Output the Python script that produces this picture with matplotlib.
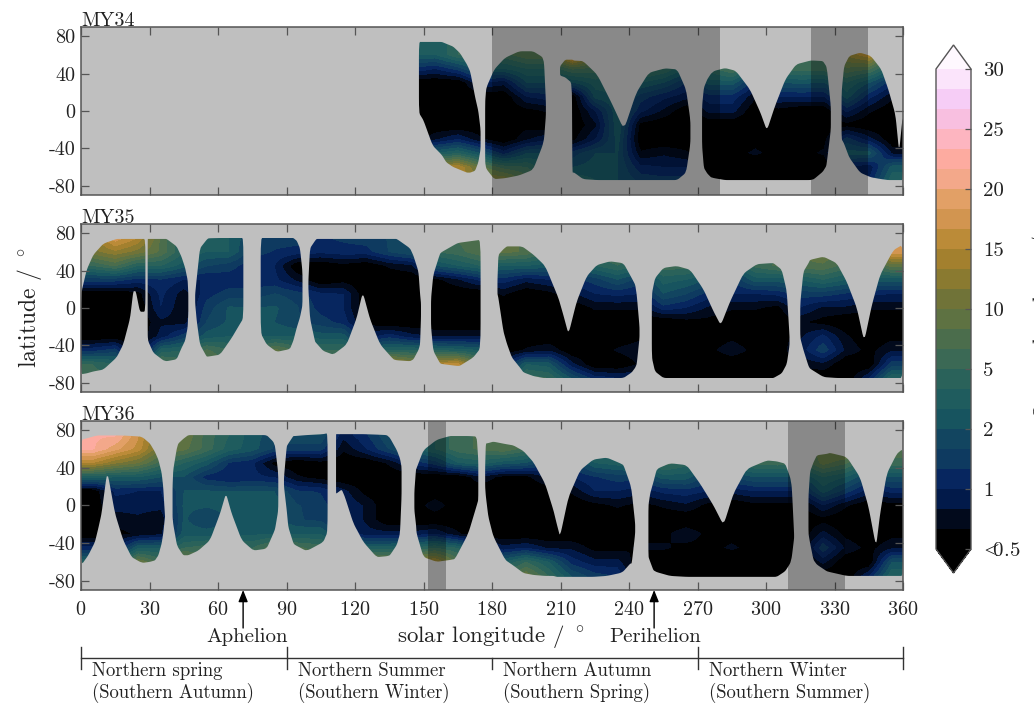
import numpy as np
import matplotlib
matplotlib.use("Agg")
import matplotlib.pyplot as plt
from matplotlib.colors import ListedColormap, Normalize
from matplotlib.cm import ScalarMappable
from matplotlib.path import Path
from matplotlib.patches import PathPatch
from matplotlib.transforms import blended_transform_factory

plt.rcParams.update({"font.family": "cmr10", "mathtext.fontset": "cm",
                     "axes.unicode_minus": False, "axes.formatter.use_mathtext": True})

W, H = 1034, 704
LAT_ROWS = [75, 60, 45, 30, 15, 0, -15, -30, -45, -60, -75]
LEVELS = [0.5, 0.667, 0.833, 1, 1.33, 1.67, 2, 3, 4, 5, 6.67, 8.33, 10, 11.67, 13.33,
          15, 16.67, 18.33, 20, 21.67, 23.33, 25, 26.67, 28.33, 30]
BAND_COLORS = ["#000000", "#020a1c", "#021a4a", "#07265f", "#0e3a60", "#124560",
               "#17545f", "#1f5c5e", "#2a625a", "#3b6955", "#4b6d4c", "#5e7242",
               "#707338", "#8a7a30", "#a3802e", "#bb8b38", "#d29550", "#e2a066",
               "#f3a88a", "#fdaba0", "#fdb5c0", "#f8bfe0", "#f6cdf6", "#fbe4fb"]
TOP_COLOR = "#fef8fe"
CBAR_TICKS = ["<0.5", "1", "2", "5", "10", "15", "20", "25", "30"]

# Ozone values: one column per 10 deg of Ls (centres 145, 155, ...), north to south.
MY34_START = 140
MY34 = [
 [3,3,1.3,.45,.4,.4,.4,.5,2.5,10,12],
 [3,3,1.0,.4,.4,.4,.4,.8,3,13,13],
 [5,5,1.5,.4,.4,.45,.5,1,4,15,15],
 [5,5,3,1,.5,.4,.4,.7,2,9,12],
 [6,6,3,.9,.5,.45,.4,.5,1.2,6,12],
 [8,8,4,2,1,.6,.6,.8,2,5,8],
 [8,8,4,2,1.2,.7,.5,1,2,3,5],
 [21,19,7,2,.5,.45,.4,.6,1.5,2,4],
 [10,10,6,3.5,2.5,1,.8,1,2,2.5,3],
 [6,6,4,3.5,3,3,3,2.5,2,2,2],
 [7,7,7,3,1.5,1.1,.6,.5,.7,1.1,1.6],
 [6,6,5,2,1.1,.8,.45,.5,.8,1,1.5],
 [5,5,3,1.3,.9,.5,.45,.4,.7,1,1.5],
 [5,5,4.5,2.5,1.2,.9,.5,.5,.5,.4,.4],
 [6,6,7,2.5,1.2,.9,.5,.5,.6,.4,.4],
 [4,4,2.5,1.1,.7,.5,.5,.6,.7,.4,.4],
 [5,5,5,2,1,.6,.45,.5,.6,.4,.4],
 [6,6,6,2.2,1,.5,.45,.5,.6,.4,.4],
 [7,7,6,2,1,.5,.45,.6,.7,.5,.4],
 [12,12,8,4,2.5,1.1,.6,1.5,2.5,1,.5],
 [16,15,7,2,1.1,.7,.4,.9,2.5,.9,1.1],
 [5,5,3,1.1,.7,.45,.4,.4,.8,2.5,4],
]
MY35_START = 0
MY35 = [
 [12,11,5,1.5,.4,.4,.4,.4,1.2,5,6],
 [18,13,7,1.5,.4,.4,.4,.4,1.5,4,5],
 [15,11,4,1.2,.6,.5,.4,.4,.4,2,4],
 [8,8,4,1.3,1.1,1,.8,.9,3.5,8,8],
 [4,4,2.5,1,.75,.7,.75,1.5,4,6,6],
 [3,3,1.7,1,1.2,1.5,1.7,2.5,7,10,10],
 [3,3,1.5,1.1,1.5,2.2,2.2,3,5,5,5],
 [1.7,1.5,1.1,1.1,1.5,2,2.2,3,5,5,5],
 [1.5,1.3,1,1.1,1.7,2.2,2,3,9,9,9],
 [1.5,1.2,.5,.8,1.5,1.7,1.7,3,6,6,6],
 [1.3,1.1,.45,.5,1.1,1.2,1.5,2.5,5,5,5],
 [1.4,1.2,.6,.6,1,1,1.2,2.5,5,5,5],
 [1.5,1.2,.5,.4,.4,.4,.6,.9,3,10,10],
 [1.7,1.7,.7,.4,.4,.4,.5,1.2,4,15,15],
 [2,2,.8,.4,.4,.4,.4,.9,4,12,12],
 [5,5,2,.6,.4,.4,.4,.8,4,15,15],
 [7,6,3,.8,.4,.4,.4,.8,3.5,16,16],
 [8,8,4,1.1,.5,.4,.4,.8,3,8,8],
 [9,9,3,1.2,.7,.45,.4,.4,.5,.9,1.5],
 [8,8,3,.9,.45,.4,.4,.4,.7,3,6],
 [5,5,2.5,1,.6,.4,.4,.5,.8,2.5,5],
 [5,5,2.5,1.2,.8,.5,.4,.45,.4,.9,2],
 [6,6,4,1.5,1,.7,.45,.45,.45,.4,1.2],
 [7,7,5,2,1.1,.7,.5,.5,.7,.5,1],
 [5,5,4,1.5,1,.7,.5,.6,.8,.7,1],
 [5,5,6,3.5,2,1.2,.5,.6,.5,.4,.4],
 [5,5,6,3,1.7,1,.6,.5,.6,.4,.4],
 [5,5,4,2,1.2,.8,.6,.5,.6,.4,.4],
 [5,5,3,1.3,1,.7,.5,.6,.8,.4,.4],
 [5,5,5.5,2.5,1,.7,.5,.5,.6,.4,.4],
 [7,7,7,2.5,1.1,.6,.45,.5,.5,.4,.4],
 [8,8,8,3,1.5,1,.7,.8,.9,.7,.5],
 [10,10,8,4,1.5,.8,.6,1.1,1.6,.8,.4],
 [8,8,6,3,1.3,.8,.5,.7,.8,.5,.4],
 [7,7,5,2.5,1.1,.7,.45,.5,.6,.5,1],
 [18,18,9,2.5,1,.7,.5,.6,.8,1.5,4],
]
MY36_START = 0
MY36 = [
 [22,22,15,3.5,.5,.4,.4,.4,1.1,4,4],
 [22,19,12,3,1.1,.9,.75,.6,.9,3,3],
 [17,16,10,3,1,.9,.8,.7,3,10,10],
 [10,10,6,2,1,.9,.7,.8,3,6,6],
 [10,9,4,2,2,2.2,2.2,2.5,5,12,12],
 [6,6,2.5,1.2,2.2,2.2,1.7,2.5,6,6,6],
 [4,3.5,1.3,1,2,2.3,2.2,2.5,6,8,8],
 [2.5,2.5,1.1,1.1,2,2.5,2.5,2.8,5,8,8],
 [1.8,1.6,.6,1,2,2.5,2.5,3,8,8,8],
 [2,1.5,.5,.7,1.4,1.7,1.7,3,7,10,10],
 [2,1.5,.6,.6,1.3,1.5,1.6,3,6,6,6],
 [.9,.7,.4,.4,.9,1,1,1.5,4,4,4],
 [1.3,1,.4,.4,.6,.8,.8,.9,3.5,12,12],
 [2,1.7,.7,.4,.4,.4,.45,.9,3.5,10,10],
 [3,3,1.1,.4,.4,.5,.5,.9,4,12,12],
 [4,4,1.5,.45,.4,.8,.5,1,5,14,14],
 [6,6,3,.5,.4,.4,.4,.7,4,8,8],
 [7,7,3.5,.8,.4,.4,.4,.5,1.5,3,3],
 [8,8,2.5,.6,.4,.4,.4,.45,.9,3,6],
 [7,6,2,.6,.4,.4,.4,.5,1,5,10],
 [3,3,1.3,.9,.5,.4,.4,.45,.8,3,5],
 [3,3,1.5,1,.7,.5,.4,.45,.8,1.2,2],
 [5,5,3,1.3,1,.6,.45,.4,.6,.9,1.5],
 [5,5,3.5,1.5,1,.7,.45,.45,.6,.9,1.3],
 [4,4,4,1.5,.9,.6,.5,.6,.7,.5,.4],
 [4,4,6,2.5,1.1,.7,.5,.6,.7,.4,.4],
 [4,4,4.5,2.5,1.2,.8,.45,.8,.6,.4,.4],
 [4,4,3,1.5,1,.6,.5,.6,.6,.4,.4],
 [4,4,4,1.7,.9,.5,.5,.6,.7,.4,.4],
 [5,5,5.5,2,1,.6,.45,.5,.6,.4,.4],
 [5,5,6,2,1,.6,.45,.45,.5,.4,.4],
 [5,5,5,2,1,.6,.45,.5,.6,.5,.4],
 [10,10,9,4,2.5,1,.6,.9,1.6,.9,.4],
 [12,12,7,3,1.5,.7,.45,.6,.8,.5,.4],
 [6,6,4,1.7,.9,.5,.45,.5,.6,.5,1],
 [8,8,6,2,1.1,.6,.5,.6,.8,2,4],
]

# Coverage of each observation block: Ls, northern edge, southern edge (deg).
MY34_COVER = [
 ([148,150,154,158,160,163,166,169,170.5,172.6,174,175],
  [74,74,74,74,72,69,62,50,42,15,0,-20],
  [-2,-10,-37,-47,-55,-60,-63,-66,-66,-64,-55,-41]),
 ([177,177.5,181,185.7,191.9,198,202,202.8,203.6],
  [10,25,44.6,57,64,64,58,52,10],
  [-55,-62,-73,-72,-69,-63,-38,-30,-5]),
 ([209.8,212.1,215,215.2,216,219.9,226.1,232.3,237.8,243.2,248.7,255.7,261.1,265,266.9],
  [48,55,55,55,54,53.5,39,9,-20,19.6,41,45.7,44.6,23,-10],
  [38,36,30,-66,-66,-73,-74,-74,-74,-74,-74,-74,-74,-66,-35]),
 ([272,272.8,274.3,275.9,277.4,282.1,286.8,293,297.6,300.4,303.9,308.5,313.2,319.4,321,324.9,326.4,326.9,328.4],
  [5,25,34,40,43,46,43,23,-2,-21,5,34,50,54,54,53.5,48,41,5],
  [-37,-61,-67,-71,-72,-74,-74,-74,-74,-74,-74,-74,-74,-74,-73,-65,-59,-50,-20]),
 ([333.1,334.2,336.5,341.2,345.9,350.5,353.6,356.7,358.3,360],
  [20,48,59,62.5,59,44.6,23,-4,-44,-2],
  [-30,-35,-50,-66,-71,-73,-74,-74,-74,-74]),
]
MY35_COVER = [
 ([0,2.5,5.4,9.8,15.6,18.5,21.5,22.9,24,25.8,28.2],
  [15,41,57,69,74,74,74,74,74,74,74],
  [-71,-70,-68,-66,-53,-39,-11,18,18,-4,-4]),
 ([29.2,29.5,31.7,36,37.5,41.9,44,45.6,46.7,47],
  [74,74,74,74,74,66,55,43,30,15],
  [-30,-36,-48,-56,-57,-55,-43,-35,-21,-5]),
 ([50,50.7,52.1,55,55.8,60.9,66,68.9,71.1],
  [15,32,64,73,74.7,75,75,75,75],
  [5,-14,-39,-52,-52,-50,-32,-20,-11]),
 ([78.7,81.3,85.7,91.5,93,94.5,95.9,97],
  [75,75,75,75,75,72,64,39],
  [-27,-39,-47,-44,-35,-21,-10,3]),
 ([99.6,100.3,102.5,103.2,106.1,110.5,116.4,120.7,123.4,126.6,131,136.8,138.3,144.1,145.6,147.8,148.5,148.9],
  [30,64,72,74,74,74,74,74,74,74,74,74,74,64,56,39,15,5],
  [20,-11,-36,-38,-46,-50,-39,-11,17,-12,-39,-55,-56,-57,-55,-45,-39,-10]),
 ([153.3,154.3,157.2,158,164.5,165.9,171.8,175],
  [10,35.6,58,60,69,70,72,73],
  [-20,-46,-59,-60,-62,-62,-53,-43]),
 ([182.4,182.8,185,186.5,188.7,192.3,193.8,198.2,202.5,204,209.1,211.3,213.5,217.1,221.5,225.9,231.7,237.6,241.2,242.7,243.4,244.6],
  [30,57,63,66,66,66,65,57,47,41,10.7,-8,-28,7,34,46,50,48,32,25,14,-20],
  [15,10.7,-25,-38,-53,-64,-69,-73,-75,-75,-75,-75,-75,-75,-75,-75,-75,-75,-69,-64,-60,-32]),
 ([250,251.4,255.1,260.9,266.8,272.6,277,280.2,284.3,290.1,296,301.8,303.3,306.9,309.1,310.3],
  [15,32,43,45,41,20,-3.5,-18.5,7,37,47,48,48,41,18,-30],
  [-53,-68,-75,-75,-75,-75,-75,-75,-75,-75,-75,-75,-75,-70,-60,-40]),
 ([315,316.4,318.6,319.3,325.2,331,335.4,339.8,343,346.4,350,355.8,360],
  [5,39,48,51.6,55,48,28,0,-36,3.5,35.6,62,68],
  [-32,-45,-62,-65,-74,-75,-75,-75,-75,-75,-75,-75,-75]),
]
MY36_COVER = [
 ([0,3.2,6.1,7.6,9,11.5,14.9,18.5,22.2,25.8,27.3,30.2,32.4,33.9,35.3,36,36.8],
  [70,72,74,74.6,74.6,74.6,74.6,74.5,74,73.5,72,66,57,48.6,35,20,-12],
  [-64,-53,-39,-24,-8.6,37,-8.6,-37,-55,-60,-61,-60,-58.5,-53,-40.7,-30,-12]),
 ([40.1,40.4,41.9,42.6,44.8,47,51.4,56.5,60.9,63.5,66,70.4,75.5,81.3,84.2,85,86.4],
  [20,38,60,66,71,75,75,75,75,75,75,75,75,75,68,63,34],
  [-12,-20,-40.7,-45,-53,-53,-48,-37,-8.6,13,-8.6,-37,-48,-46,-30,-25,-5]),
 ([88.9,90.1,90.8,93,93.7,98.8,106.1,108],
  [30,63,66,74,74,75,76,77],
  [20,-5,-23,-40,-42,-48.5,-39,-28]),
 ([111.7,112,114.2,115.6,119.3,123.7,129.5,133.9,135.3,138.3,139.7,140.4],
  [76,76,76,76,76,76,75.5,75,72,59,50,41],
  [13,13,17,9,-19,-39,-55,-54,-53,-42,-30,10]),
 ([146,146.7,147,150,155.8,161.6,163.8,169.6,173.3,174],
  [15,38,40,59,70,74,74,74,73.5,48],
  [-5,-20,-30,-55,-60,-58,-57,-30,0,6]),
 ([177,177.3,178.4,180.6,185.8,189.4,193.8,198.2,203.3,206.9,208.4,209.8,213.5,218.6,224.4,230.3,236.1,237.6,240.5,241.2,242.7],
  [41,66,66.5,68,65.5,64,58,46,23,-5,-20,-33,9,37.5,49,51,45,43,23,15,-19],
  [20,10,-12,-33,-58,-64,-72,-74,-75,-75,-76,-76,-76,-76,-76,-75,-72,-70,-62,-61.6,-30]),
 ([248.5,249.3,250.7,252.2,258,265.3,271.2,277,281.4,285.8,291.6,300.4,304.7,308.4,310.6,311.3,312.3],
  [0,13,25,39,45,43,23,0,-21,13,39,48,47,44.6,30,20,-30],
  [-54.5,-60,-69,-71,-75,-76,-76,-76,-76,-76,-76,-76,-76,-70,-61.6,-55,-35]),
 ([318.6,319.3,320.8,322.3,326.6,328.1,335.4,341.2,344.9,348.2,350,352.9,357.3,360],
  [10,36,46,53.5,55,56,51.7,30,-1.4,-44,-8.5,34,55,60.5],
  [-30,-40,-58,-63,-70,-71,-75,-75,-75,-75,-75,-75,-75,-75]),
]

# Dust-storm periods (Ls start, end)
MY34_STORMS = [(180, 280), (319.8, 344.8)]
MY35_STORMS = []
MY36_STORMS = [(152, 160), (309.8, 334.8)]

PANELS = [("MY34", MY34, MY34_START, MY34_COVER, MY34_STORMS, 27, 195),
          ("MY35", MY35, MY35_START, MY35_COVER, MY35_STORMS, 224, 392),
          ("MY36", MY36, MY36_START, MY36_COVER, MY36_STORMS, 421, 590)]

XTICKS = list(range(0, 361, 30))
YTICKS = [80, 40, 0, -40, -80]
SEASONS = [(0, "Northern spring", "(Southern Autumn)"),
           (90, "Northern Summer", "(Southern Winter)"),
           (180, "Northern Autumn", "(Southern Spring)"),
           (270, "Northern Winter", "(Southern Summer)")]
ORBIT_MARKS = [(71, "Aphelion", 72.7), (251, "Perihelion", 251.5)]

FS = 14.5
EDGE = "#555555"
TXT = "#222222"
cmap = ListedColormap(BAND_COLORS)
cmap.set_over(TOP_COLOR)
cmap.set_under("#000000")
norm = Normalize(0, len(BAND_COLORS))

fig = plt.figure(figsize=(W / 100, H / 100), dpi=100)
band_index = np.arange(len(LEVELS))


def rounded(pts, q=0.13, passes=2):
    """Corner-cut a closed outline so the clip edge looks curved, not faceted."""
    p = np.asarray(pts, dtype=float)
    for _ in range(passes):
        nxt = np.roll(p, -1, axis=0)
        p = np.column_stack([(1 - q) * p + q * nxt, q * p + (1 - q) * nxt]).reshape(-1, 2)
    return p


def cover_path(blocks):
    verts, codes = [], []
    for ls, top, bot in blocks:
        pts = rounded(list(zip(ls, top)) + list(zip(ls[::-1], bot[::-1])))
        verts += pts.tolist() + [pts[0].tolist()]
        codes += [Path.MOVETO] + [Path.LINETO] * (len(pts) - 1) + [Path.CLOSEPOLY]
    return Path(verts, codes)


axes = []
for name, cols, start, cover, storms, ytop, ybot in PANELS:
    ax = fig.add_axes([81 / W, 1 - ybot / H, (903 - 81) / W, (ybot - ytop) / H])
    axes.append(ax)
    ax.set_facecolor("#bfbfbf")
    grid = np.array(cols, dtype=float).T
    idx = np.interp(grid, LEVELS, band_index)
    im = ax.imshow(idx, cmap=cmap, norm=norm, aspect="auto", interpolation="bilinear",
                   interpolation_stage="data", origin="upper",
                   extent=[start, start + 10 * grid.shape[1], LAT_ROWS[-1] - 7.5, LAT_ROWS[0] + 7.5])
    patch = PathPatch(cover_path(cover), transform=ax.transData, fc="none", ec="none")
    ax.add_patch(patch)
    im.set_clip_path(patch)
    for a, b in storms:
        ax.axvspan(a, b, color="black", alpha=0.28, lw=0, zorder=3)
    ax.set_xlim(0, 360)
    ax.set_ylim(-90, 90)
    ax.set_xticks(XTICKS)
    ax.set_yticks(YTICKS)
    ax.set_yticklabels([str(v) for v in YTICKS])
    ax.tick_params(direction="in", top=True, right=True, length=5.5, width=0.9,
                   color=EDGE, labelsize=FS, pad=4, labelcolor=TXT)
    ax.tick_params(axis="x", labelbottom=False)
    for s in ax.spines.values():
        s.set_color(EDGE)
        s.set_linewidth(1.1)
        s.set_zorder(5)
    ax.text(0, 1.008, name, transform=ax.transAxes, fontsize=FS, va="baseline", ha="left",
            color=TXT)

axes[2].tick_params(axis="x", labelbottom=True, pad=8)
axes[1].set_ylabel(r"latitude / $^\circ$", fontsize=FS + 2.5, color=TXT, labelpad=3)

bottom = axes[2]
tr = blended_transform_factory(bottom.transData, fig.transFigure)


def fy(px):
    return 1 - px / H


for ls, label, lx in ORBIT_MARKS:
    bottom.annotate("", xy=(ls, fy(590)), xytext=(ls, fy(628)), xycoords=tr, textcoords=tr,
                    arrowprops=dict(arrowstyle="-|>,head_width=0.28,head_length=0.7",
                                    color="black", lw=1, shrinkA=0, shrinkB=0))
    bottom.text(lx, fy(637), label, transform=tr, fontsize=FS + 0.5, ha="center", va="center",
                color=TXT)
bottom.text(179.5, fy(636), r"solar longitude / $^\circ$", transform=tr, fontsize=FS + 2,
            ha="center", va="center", color=TXT)

bottom.plot([0, 360], [fy(658), fy(658)], transform=tr, color="#333333", lw=1, clip_on=False)
for ls in [0, 90, 180, 270, 360]:
    up = 658 if ls == 180 else 647
    bottom.plot([ls, ls], [fy(up), fy(669)], transform=tr, color="#333333", lw=1, clip_on=False)
for ls, l1, l2 in SEASONS:
    bottom.text(ls + 5, fy(671), l1, transform=tr, fontsize=FS - 1, ha="left", va="center",
                color=TXT)
    bottom.text(ls + 5, fy(693), l2, transform=tr, fontsize=FS - 1, ha="left", va="center",
                color=TXT)

cax = fig.add_axes([936 / W, 1 - 573 / H, 35 / W, (573 - 45) / H])
cb = fig.colorbar(ScalarMappable(norm=norm, cmap=cmap), cax=cax, extend="both",
                  extendfrac=24 / 480, drawedges=False)
cb.set_ticks(np.arange(0, 25, 3))
cb.set_ticklabels([r"$\!\!\!\!<\!\!\!$0.5" if t.startswith("<") else t for t in CBAR_TICKS])
cb.ax.tick_params(direction="in", length=4, width=0.9, color=EDGE, labelsize=FS + 0.5, pad=9,
                  labelcolor=TXT)
cb.outline.set_edgecolor(EDGE)
cb.outline.set_linewidth(1)
fig.text(1030 / W, fy(420), r"Ozone abundance / $\mu$m-atm", rotation=90, ha="left", va="bottom",
         fontsize=FS + 1, color=TXT)

fig.savefig("out.png", dpi=100)
